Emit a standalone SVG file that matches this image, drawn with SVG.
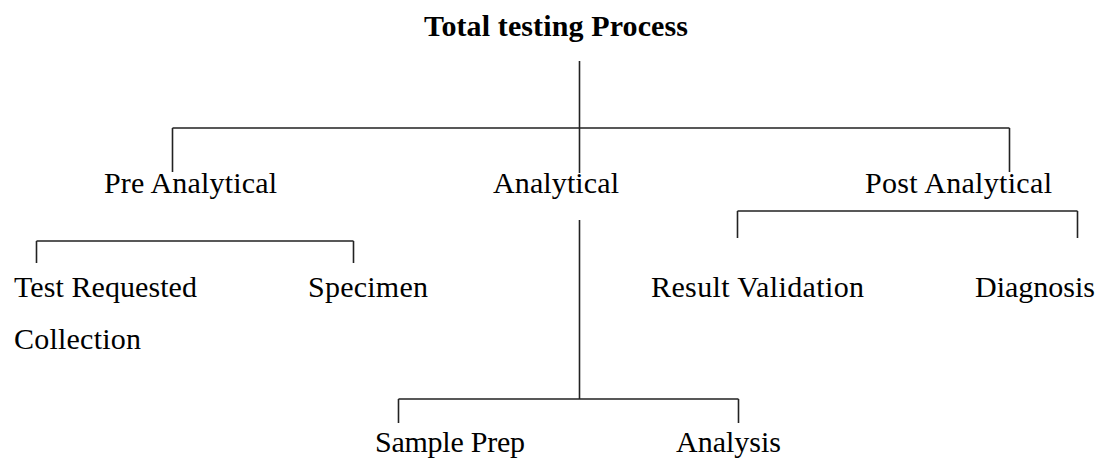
<svg xmlns="http://www.w3.org/2000/svg" width="1098" height="459" viewBox="0 0 1098 459">
<style>
text{font-family:"Liberation Serif","Times New Roman",serif;font-size:30px;fill:#000}
.title{font-weight:bold}
.c{fill:none;stroke:#222;stroke-width:1.6}
</style>
<rect width="1098" height="459" fill="#fff"/>
<g id="connectors">
<path class="c" d="M579.5 61V173M172.5 128H1009.5M172.5 128V172M1009.5 128V172"/>
<path class="c" d="M36.5 241H353.5M36.5 241V263M353.5 241V263"/>
<path class="c" d="M737.5 211H1077.5M737.5 211V238M1077.5 211V238"/>
<path class="c" d="M579.5 220V399M398.5 399H738.5M398.5 399V423M738.5 399V423"/>
</g>
<g id="total"><text class="title" x="424" y="36" textLength="264">Total testing Process</text></g>
<g id="pre"><text x="104" y="193" textLength="173">Pre Analytical</text></g>
<g id="analytical"><text x="493" y="193" textLength="126">Analytical</text></g>
<g id="post"><text x="865" y="193" textLength="187">Post Analytical</text></g>
<g id="test-requested"><text x="14" y="297" textLength="183">Test Requested</text><text x="14" y="349" textLength="127">Collection</text></g>
<g id="specimen"><text x="308" y="297" textLength="120">Specimen</text></g>
<g id="result-validation"><text x="651" y="297" textLength="213">Result Validation</text></g>
<g id="diagnosis"><text x="975" y="297" textLength="120">Diagnosis</text></g>
<g id="sample-prep"><text x="375" y="452" textLength="150">Sample Prep</text></g>
<g id="analysis"><text x="676" y="452" textLength="105">Analysis</text></g>
</svg>
